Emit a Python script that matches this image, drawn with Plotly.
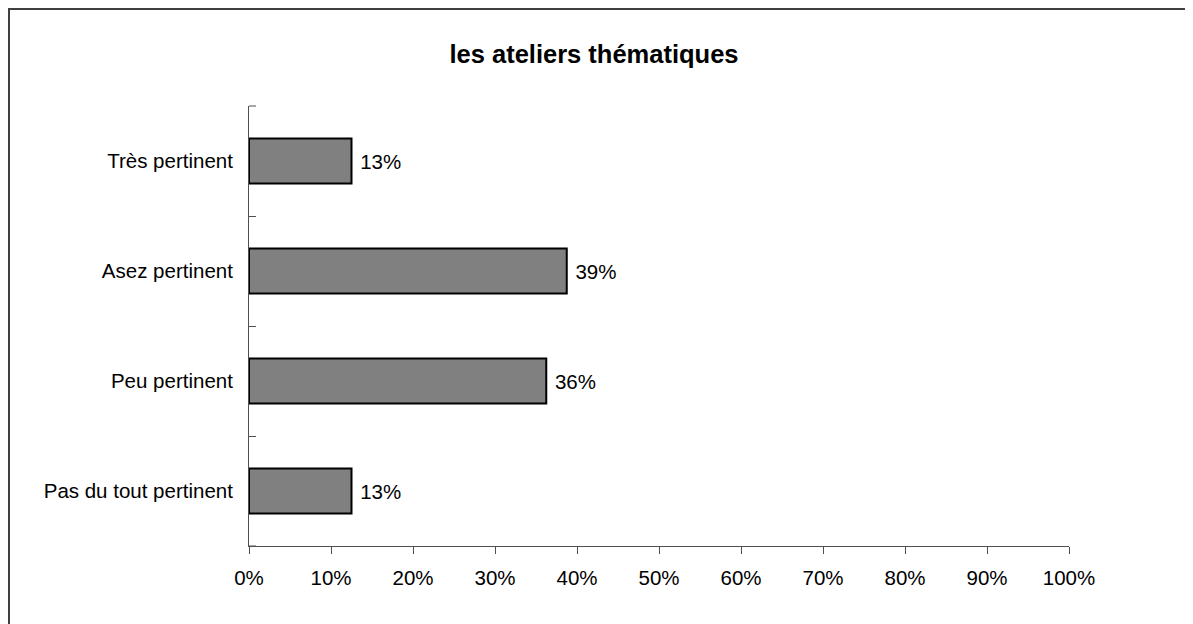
import plotly.graph_objs as go

categories = ["Très pertinent", "Asez pertinent", "Peu pertinent", "Pas du tout pertinent"]
values = [0.125, 0.3875, 0.3625, 0.125]
labels = ["13%", "39%", "36%", "13%"]
x_ticks = [0, 0.1, 0.2, 0.3, 0.4, 0.5, 0.6, 0.7, 0.8, 0.9, 1.0]

font_family = "Arial, Liberation Sans, sans-serif"

# the page puts the plot 8px in from the top-left corner
W, H = 1185, 616
L, R, T, B = 241, 124, 98, 78
pw, ph = W - L - R, H - T - B

trace = go.Bar(
    x=values,
    y=categories,
    orientation="h",
    marker=dict(color="#808080", line=dict(color="black", width=2)),
    text=labels,
    texttemplate="\u00a0%{text}",
    textposition="outside",
    textfont=dict(size=20.5, color="black", family=font_family),
    cliponaxis=False,
    width=0.41,
)

fig = go.Figure(trace)

fig.update_layout(
    width=W, height=H,
    margin=dict(l=L, r=R, t=T, b=B),
    paper_bgcolor="white", plot_bgcolor="white",
    font=dict(family=font_family, size=20.5, color="black"),
    showlegend=False,
    title=dict(text="<b>les ateliers thématiques</b>", x=586 / W, xanchor="center",
               y=1 - 46 / H, yanchor="middle", font=dict(size=25.5, color="black")),
)

fig.update_xaxes(
    range=[0, 1], tickvals=x_ticks, tickformat=".0%",
    showgrid=False, zeroline=False,
    showline=True, linecolor="#505050", linewidth=1,
    ticks="outside", ticklen=7, tickcolor="#505050",
    tickfont=dict(size=20.5), ticklabelstandoff=6,
)

fig.update_yaxes(
    categoryorder="array", categoryarray=categories[::-1],
    range=[-0.5, 3.5],
    showgrid=False, zeroline=False,
    showline=True, linecolor="#505050", linewidth=1,
    ticks="inside", ticklen=7, tickcolor="#505050", tickson="boundaries",
    tickfont=dict(size=20.5), ticklabelstandoff=11,
)

# end ticks of the category axis (top and bottom boundaries)
for yp in (0, 1):
    fig.add_shape(type="line", xref="paper", yref="paper",
                  x0=0, x1=7 / pw, y0=yp, y1=yp,
                  line=dict(color="#505050", width=1))

# outer chart border (only top and left edges are visible in the frame)
fig.add_shape(type="rect", xref="paper", yref="paper",
              x0=(1 - L) / pw, x1=(W + 20 - L) / pw,
              y0=-(B + 20) / ph, y1=(ph + T - 1) / ph,
              line=dict(color="#404040", width=2))

fig.write_html("out.html")
